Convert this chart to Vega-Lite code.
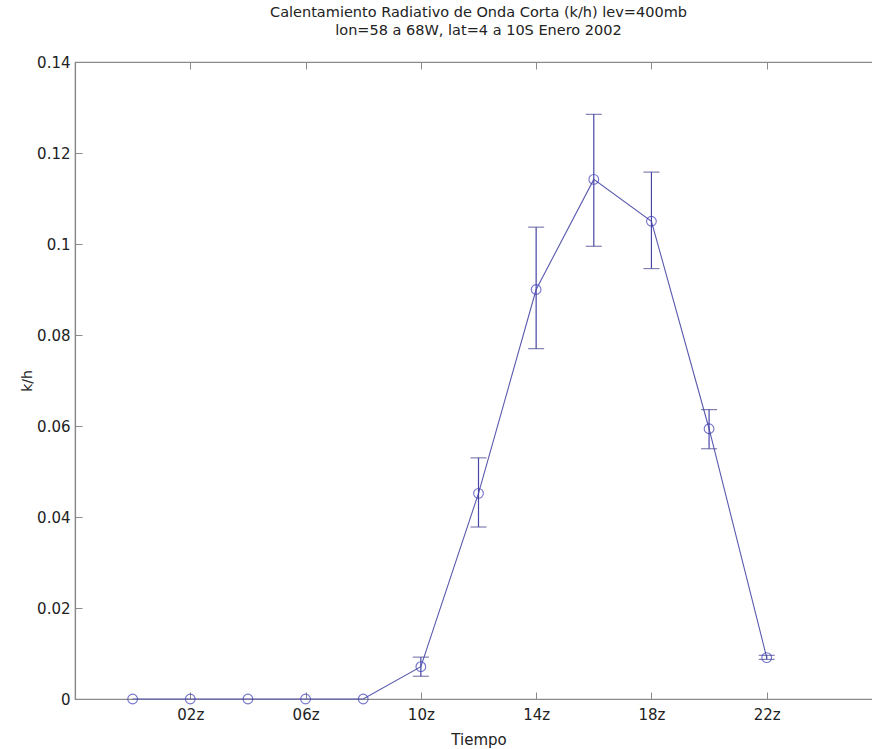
{
  "$schema": "https://vega.github.io/schema/vega-lite/v6.json",
  "autosize": {"type": "none"},
  "width": 807,
  "height": 637,
  "padding": {"left": 75, "top": 62, "right": 0, "bottom": 50},
  "background": "white",
  "config": {
    "font": "DejaVu Sans",
    "view": {"stroke": "#8a8a8a", "strokeWidth": 1.2}
  },
  "title": {
    "text": ["Calentamiento Radiativo de Onda Corta (k/h) lev=400mb", "lon=58 a 68W, lat=4 a 10S Enero 2002"],
    "anchor": "middle",
    "frame": "group",
    "offset": 17,
    "fontSize": 14.5,
    "fontWeight": "normal",
    "color": "#222222",
    "lineHeight": 18
  },
  "data": {
    "values": [
      {"hour": 0, "v": 0.0, "lo": null, "hi": null},
      {"hour": 2, "v": 0.0, "lo": null, "hi": null},
      {"hour": 4, "v": 0.0, "lo": null, "hi": null},
      {"hour": 6, "v": 0.0, "lo": null, "hi": null},
      {"hour": 8, "v": 0.0, "lo": null, "hi": null},
      {"hour": 10, "v": 0.0071, "lo": 0.0050, "hi": 0.0092},
      {"hour": 12, "v": 0.0452, "lo": 0.0378, "hi": 0.0530},
      {"hour": 14, "v": 0.0900, "lo": 0.0770, "hi": 0.1037},
      {"hour": 16, "v": 0.1142, "lo": 0.0995, "hi": 0.1285},
      {"hour": 18, "v": 0.1050, "lo": 0.0946, "hi": 0.1158},
      {"hour": 20, "v": 0.0594, "lo": 0.0550, "hi": 0.0636},
      {"hour": 22, "v": 0.0091, "lo": 0.0087, "hi": 0.0096}
    ]
  },
  "resolve": {"axis": {"x": "independent", "y": "independent"}},
  "layer": [
    {
      "mark": {"type": "line", "color": "#5a5aae", "strokeWidth": 1.1},
      "encoding": {
        "x": {
          "field": "hour", "type": "quantitative",
          "scale": {"domain": [-2, 26], "nice": false, "zero": false},
          "axis": {
            "orient": "bottom",
            "values": [2, 6, 10, 14, 18, 22],
            "labelExpr": "(datum.value < 10 ? '0' : '') + datum.value + 'z'",
            "title": "Tiempo",
            "titleFontSize": 15,
            "titleFontWeight": "normal",
            "titleColor": "#222222",
            "titlePadding": 10,
            "labelFontSize": 15,
            "labelColor": "#222222",
            "labelPadding": 15,
            "tickSize": -7,
            "tickColor": "#8a8a8a",
            "domainColor": "#8a8a8a",
            "domainWidth": 1.2,
            "grid": false
          }
        },
        "y": {
          "field": "v", "type": "quantitative",
          "scale": {"domain": [0, 0.14], "nice": false},
          "axis": {
            "orient": "left",
            "values": [0, 0.02, 0.04, 0.06, 0.08, 0.1, 0.12, 0.14],
            "format": "~g",
            "title": "k/h",
            "titleFontSize": 14,
            "titleFontWeight": "normal",
            "titleColor": "#222222",
            "titlePadding": 2,
            "labelFontSize": 15,
            "labelColor": "#222222",
            "labelPadding": 12,
            "tickSize": -7,
            "tickColor": "#8a8a8a",
            "domainColor": "#8a8a8a",
            "domainWidth": 1.2,
            "grid": false
          }
        }
      }
    },
    {
      "mark": {"type": "errorbar", "ticks": {"size": 16, "color": "#4a4a90", "thickness": 1.2}, "rule": {"color": "#4646a8", "strokeWidth": 1.2}},
      "encoding": {
        "x": {"field": "hour", "type": "quantitative",
          "axis": {"orient": "top", "values": [2, 6, 10, 14, 18, 22], "labels": false, "title": null, "tickSize": -7, "tickColor": "#8a8a8a", "domain": false, "grid": false}},
        "y": {"field": "lo", "type": "quantitative", "axis": null},
        "y2": {"field": "hi"}
      }
    },
    {
      "mark": {"type": "point", "shape": "circle", "filled": false, "size": 95, "color": "#3a3ab8", "strokeWidth": 1.1},
      "encoding": {
        "x": {"field": "hour", "type": "quantitative", "axis": null},
        "y": {"field": "v", "type": "quantitative", "axis": null}
      }
    }
  ]
}
